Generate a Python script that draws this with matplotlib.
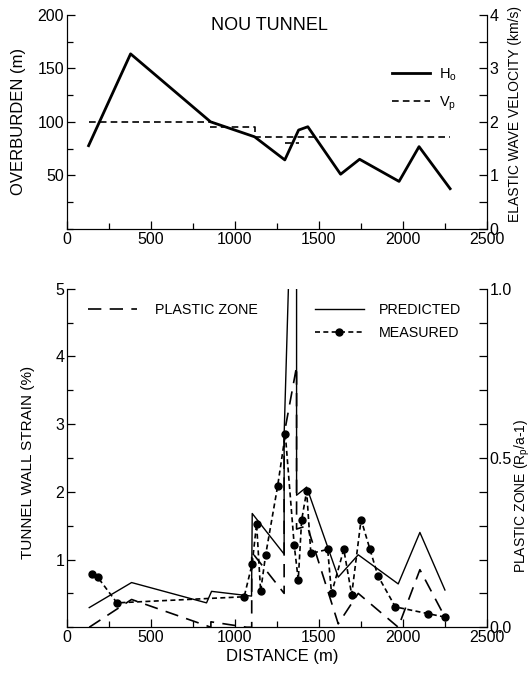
import numpy as np
import matplotlib
matplotlib.use('Agg')
import matplotlib.pyplot as plt
from matplotlib.ticker import MultipleLocator, FixedLocator, FormatStrFormatter

plt.rcParams['font.family'] = ['Liberation Sans', 'DejaVu Sans']
plt.rcParams['mathtext.default'] = 'regular'

# top panel: overburden and elastic wave velocity
h0_x = [129, 379, 855, 1117, 1297, 1379, 1434, 1629, 1742, 1977, 2096, 2281]
h0_y = [77.7, 163.5, 100, 86, 64.4, 92.3, 95.4, 51, 65, 44.3, 76.8, 37.5]

vp_x = [129, 870, np.nan, 850, 1120, 1120, 2281, np.nan, 1300, 1380]
vp_y = [2.0, 2.0, np.nan, 1.91, 1.91, 1.72, 1.72, np.nan, 1.6, 1.6]

# bottom panel: strain (%) and plastic zone (Rp/a-1)
pred_x = [133, 385, 831, 861, 1099, 1103, 1293, 1293, 1330, 1367, 1367, 1427, 1615, 1734, 1972, 2101, 2250]
pred_y = [0.29, 0.66, 0.36, 0.53, 0.46, 1.68, 1.08, 2.85, 6.0, 6.0, 1.95, 2.07, 0.74, 1.07, 0.64, 1.40, 0.55]

meas_x = [151, 183, 298, 1055, 1103, 1129, 1153, 1183, 1254, 1300, 1353, 1377, 1397, 1427, 1452,
          1552, 1575, 1648, 1695, 1751, 1804, 1851, 1955, 2151, 2250]
meas_y = [0.78, 0.74, 0.36, 0.45, 0.94, 1.53, 0.53, 1.07, 2.08, 2.85, 1.21, 0.70, 1.58, 2.01, 1.09,
          1.15, 0.50, 1.15, 0.48, 1.59, 1.15, 0.76, 0.30, 0.20, 0.15]

pz_x = [133, 385, 857, 857, 1070, 1100, 1100, 1293, 1293, 1367, 1367, 1430, 1615, 1734, 1972, 2101, 2250]
pz_y = [0.0, 0.082, 0.0, 0.016, 0.0, 0.0, 0.222, 0.10, 0.57, 0.77, 0.29, 0.30, 0.01, 0.10, 0.0, 0.17, 0.03]

fig = plt.figure(figsize=(5.31, 6.73), dpi=100)
ax1 = fig.add_axes([0.126, 0.660, 0.791, 0.318])
ax1r = ax1.twinx()
ax2 = fig.add_axes([0.126, 0.068, 0.791, 0.503])
ax2r = ax2.twinx()

tick_kw = dict(direction='in', width=0.9, labelsize=11.5, pad=2)

# ---- top
ax1.plot(h0_x, h0_y, color='black', lw=2.0, label=r'H$_o$')
ax1r.plot(vp_x, vp_y, color='black', lw=1.2, dashes=(4, 2.5), label=r'V$_p$')
ax1.set_xlim(0, 2500)
ax1.set_ylim(0, 200)
ax1r.set_ylim(0, 4)
ax1.xaxis.set_major_locator(MultipleLocator(500))
ax1.xaxis.set_minor_locator(MultipleLocator(250))
ax1.yaxis.set_major_locator(FixedLocator([50, 100, 150, 200]))
ax1.yaxis.set_minor_locator(MultipleLocator(25))
ax1r.yaxis.set_major_locator(MultipleLocator(1))
ax1r.yaxis.set_minor_locator(MultipleLocator(0.5))
ax1.tick_params(which='major', length=6, **tick_kw)
ax1.tick_params(which='minor', length=4, direction='in', width=0.9)
ax1r.tick_params(which='major', length=6, **tick_kw)
ax1r.tick_params(which='minor', length=6, direction='in', width=0.9)
for a in (ax1, ax1r):
    a.spines['top'].set_visible(False)
ax1.text(0.483, 0.99, 'NOU TUNNEL', transform=ax1.transAxes, ha='center', va='top', fontsize=13)

h1, l1 = ax1.get_legend_handles_labels()
h2, l2 = ax1r.get_legend_handles_labels()
ax1r.legend(h1 + h2, l1 + l2, loc='upper right', bbox_to_anchor=(0.96, 0.82), frameon=False,
            fontsize=10.5, handlelength=2.6, handletextpad=0.6, labelspacing=0.8)

# ---- bottom
ax2.plot(pred_x, pred_y, color='black', lw=1.0, label='PREDICTED')
ax2.plot(meas_x, meas_y, color='black', lw=1.2, dashes=(3, 2), marker='o', ms=5, label='MEASURED')
ax2r.plot(pz_x, pz_y, color='black', lw=1.2, dashes=(8, 5), label='PLASTIC ZONE')
ax2.set_xlim(0, 2500)
ax2.set_ylim(0, 5)
ax2r.set_ylim(0, 1.0)
ax2.xaxis.set_major_locator(MultipleLocator(500))
ax2.xaxis.set_minor_locator(MultipleLocator(250))
ax2.yaxis.set_major_locator(FixedLocator([1, 2, 3, 4, 5]))
ax2.yaxis.set_minor_locator(MultipleLocator(0.5))
ax2r.yaxis.set_major_locator(FixedLocator([0.0, 0.5, 1.0]))
ax2r.yaxis.set_minor_locator(MultipleLocator(0.1))
ax2r.yaxis.set_major_formatter(FormatStrFormatter('%.1f'))
ax2.tick_params(which='major', length=6, **tick_kw)
ax2.tick_params(which='minor', length=4, direction='in', width=0.9)
ax2r.tick_params(which='major', length=6, **tick_kw)
ax2r.tick_params(which='minor', length=6, direction='in', width=0.9)
for a in (ax2, ax2r):
    a.spines['top'].set_visible(False)

leg_a = ax2.legend(handles=[ax2r.get_lines()[0]], loc='upper left', bbox_to_anchor=(0.02, 0.995),
                   frameon=False, fontsize=10.3, handlelength=3.4, handletextpad=1.3)
ax2.add_artist(leg_a)
ax2.legend(handles=ax2.get_lines()[:2], loc='upper left', bbox_to_anchor=(0.56, 0.995),
           frameon=False, fontsize=10.3, handlelength=3.4, handletextpad=1.1, labelspacing=0.6)

# axis labels
fig.text(0.034, 0.819, 'OVERBURDEN (m)', rotation=90, ha='center', va='center', fontsize=12)
fig.text(0.970, 0.830, 'ELASTIC WAVE VELOCITY (km/s)', rotation=90, ha='center', va='center', fontsize=10)
fig.text(0.052, 0.313, 'TUNNEL WALL STRAIN (%)', rotation=90, ha='center', va='center', fontsize=11)
fig.text(0.984, 0.264, 'PLASTIC ZONE (R$_p$/a-1)', rotation=90, ha='center', va='center', fontsize=10)
fig.text(0.531, 0.024, 'DISTANCE (m)', ha='center', va='center', fontsize=12)

plt.savefig('out.png', dpi=100)
